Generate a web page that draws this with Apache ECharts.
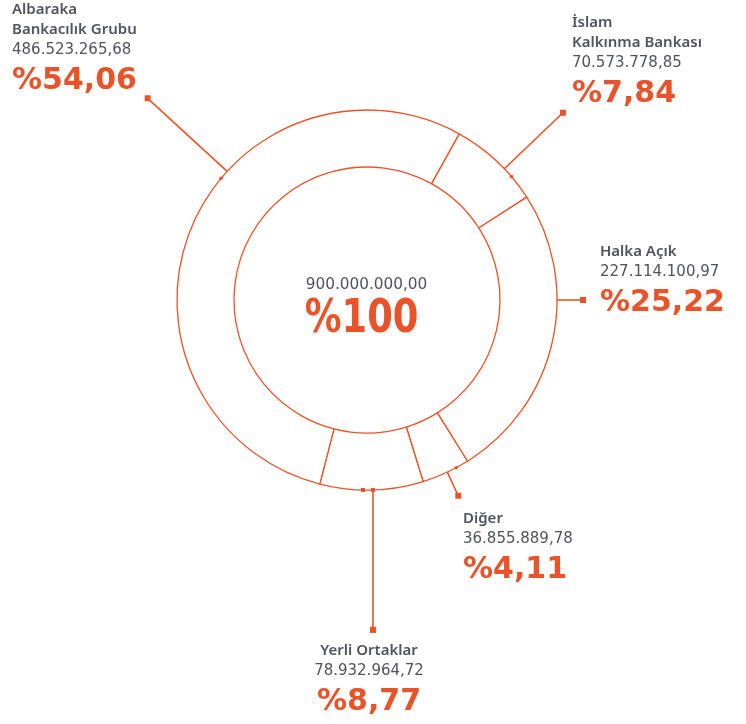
<!DOCTYPE html>
<html>
<head>
<meta charset="utf-8">
<script src="https://cdn.jsdelivr.net/npm/echarts@6/dist/echarts.min.js"></script>
<style>
  html, body { margin: 0; padding: 0; background: #fff; }
  #main { width: 746px; height: 724px; }
</style>
</head>
<body>
<div id="main"></div>
<script>
// shareholders, clockwise from the top right
var names = ["İslam\nKalkınma Bankası", "Halka Açık", "Diğer", "Yerli Ortaklar", "Albaraka\nBankacılık Grubu"];
var amounts = [70573778.85, 227114100.97, 36855889.78, 78932964.72, 486523265.68];
var shares = [7.84, 25.22, 4.11, 8.77, 54.06];
var totalShare = 100;

var RED = "#e9532a";
var GREY = "#50535b";
var cx = 367, cy = 300, rIn = 133, rOut = 190;

function fmt(n) {
  var parts = n.toFixed(2).split(".");
  return parts[0].replace(/\B(?=(\d{3})+(?!\d))/g, ".") + "," + parts[1];
}
function pct(n) {
  return "%" + String(n).replace(".", ",");
}

// where each label block sits (top edge)
var labelPos = [
  { x: 572, y: 13, align: "left" },
  { x: 600, y: 242, align: "left" },
  { x: 463, y: 509, align: "left" },
  { x: 369, y: 641, align: "center" },
  { x: 12, y: 0, align: "left" }
];
// leader lines: angle on the ring (deg clockwise from top), outer length, dot angle
var leaders = [
  { angle: 46.3, to: 271, dot: 49.5 },
  { angle: 90, to: 216, dot: null },
  { angle: 155, to: 216, dot: 152 },
  { angle: 178.2, drop: 140, dot: null },
  { angle: 312.6, to: 298, dot: 309.8 }
];

function pt(deg, r) {
  var a = deg * Math.PI / 180;
  return [cx + r * Math.sin(a), cy - r * Math.cos(a)];
}

var graphics = [];
function square(p, s) {
  graphics.push({ type: "rect", shape: { x: p[0] - s / 2, y: p[1] - s / 2, width: s, height: s }, style: { fill: RED }, z: 10 });
}
function dot(p) {
  graphics.push({ type: "circle", shape: { cx: p[0], cy: p[1], r: 1.8 }, style: { fill: RED }, z: 10 });
}
leaders.forEach(function (l) {
  var a = pt(l.angle, rOut);
  var b = l.drop ? [a[0], a[1] + l.drop] : pt(l.angle, l.to);
  graphics.push({ type: "line", shape: { x1: a[0], y1: a[1], x2: b[0], y2: b[1] }, style: { stroke: RED, lineWidth: 1.6 }, z: 10 });
  square(b, 6);
  if (l.dot !== null) dot(pt(l.dot, rOut));
  if (l.drop) { square(a, 4); square(pt(181.2, rOut), 4); }
});

var total = amounts.reduce(function (s, v) { return s + v; }, 0);
graphics.push({
  type: "text", x: 366.5, y: 285, z: 10,
  style: { text: fmt(total), fill: GREY, font: "15.3px 'DejaVu Sans'", align: "center", verticalAlign: "middle" }
});
graphics.push({
  type: "text", x: 361.5, y: 320, z: 10, scaleX: 0.8,
  style: { text: pct(totalShare), fill: RED, font: "bold 46px 'DejaVu Sans'", align: "center", verticalAlign: "middle" }
});

var data = names.map(function (n, i) {
  return { name: n, value: amounts[i] };
});

var myChart = echarts.init(document.getElementById("main"));
var option = {
  backgroundColor: "#fff",
  animation: false,
  series: [
    {
      type: "pie",
      center: [cx, cy],
      radius: [rIn, rOut],
      startAngle: 61,
      clockwise: true,
      avoidLabelOverlap: false,
      itemStyle: { color: "#fff", borderColor: RED, borderWidth: 1.3 },
      emphasis: { disabled: true },
      labelLine: { show: false },
      label: {
        show: true,
        position: "outside",
        formatter: function (p) {
          var i = p.dataIndex;
          return "{n|" + names[i] + "}\n{v|" + fmt(amounts[i]) + "}\n{p|" + pct(shares[i]) + "}";
        },
        rich: {
          n: { fontFamily: "Noto Sans", fontSize: 15, fontWeight: 600, color: GREY, lineHeight: 20 },
          v: { fontFamily: "DejaVu Sans", fontSize: 15, color: GREY, lineHeight: 20 },
          p: { fontFamily: "DejaVu Sans", fontSize: 30, fontWeight: "bold", color: RED, lineHeight: 42 }
        }
      },
      labelLayout: function (params) {
        var p = labelPos[params.dataIndex];
        return { x: p.x, y: p.y, align: p.align, verticalAlign: "top" };
      },
      data: data
    }
  ],
  graphic: graphics
};
myChart.setOption(option);
</script>
</body>
</html>
